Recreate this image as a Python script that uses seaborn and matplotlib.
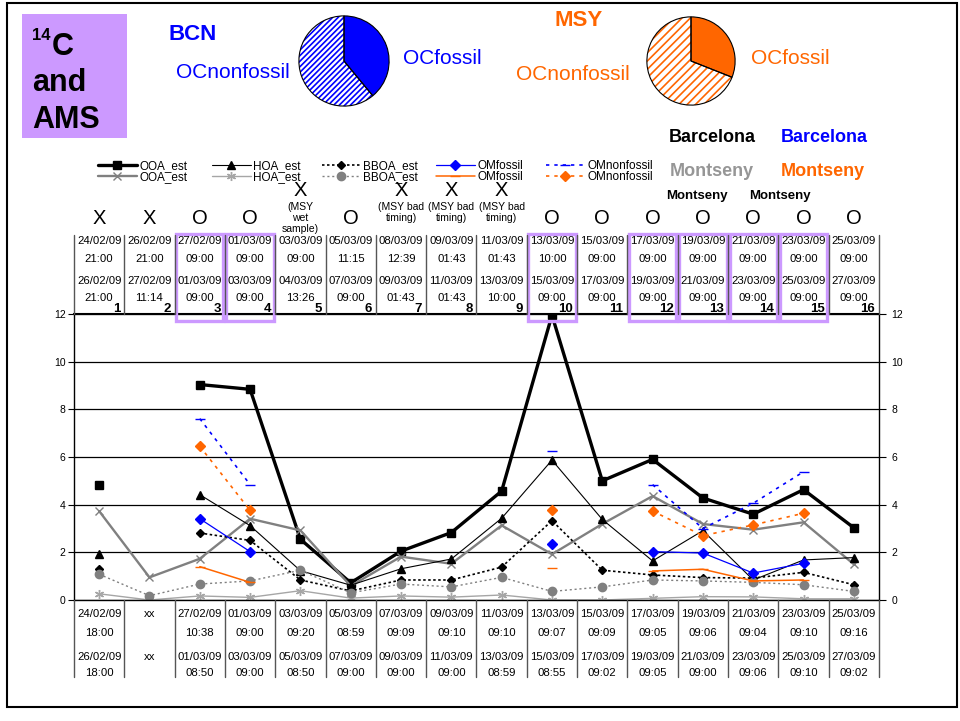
import numpy as np
import pandas as pd
import matplotlib
matplotlib.use("Agg")
import matplotlib.pyplot as plt
import matplotlib.transforms as mtransforms
from matplotlib.lines import Line2D
from matplotlib.patches import Rectangle
import seaborn as sns

nan = np.nan
samples = list(range(1, 17))

# Barcelona (black / blue) series
ooa_bcn = [4.83, nan, 9.04, 8.84, 2.55, 0.72, 2.05, 2.83, 4.57, 11.95, 5.0, 5.9, 4.28, 3.6, 4.63, 3.03]
hoa_bcn = [1.94, nan, 4.42, 3.12, 1.23, 0.62, 1.31, 1.72, 3.43, 5.87, 3.38, 1.64, 2.91, 0.84, 1.68, 1.78]
bboa_bcn = [1.29, nan, 2.81, 2.5, 0.84, 0.38, 0.84, 0.84, 1.38, 3.33, 1.25, 1.05, 0.94, 0.92, 1.16, 0.64]
omf_bcn = [nan, nan, 3.41, 2.03, nan, nan, nan, nan, nan, 2.36, nan, 2.03, 1.97, 1.13, 1.54, nan]
omnf_bcn = [nan, nan, 7.61, 4.84, nan, nan, nan, nan, nan, 6.24, nan, 4.84, 3.0, 4.06, 5.38, nan]

# Montseny (grey / orange) series
ooa_msy = [3.73, 0.95, 1.73, 3.41, 2.92, 0.59, 1.82, 1.52, 3.13, 1.92, 3.19, 4.36, 3.19, 2.95, 3.26, 1.5]
hoa_msy = [0.26, 0.0, 0.17, 0.11, 0.39, 0.08, 0.17, 0.12, 0.21, 0.0, 0.0, 0.07, 0.14, 0.13, 0.05, 0.05]
bboa_msy = [1.08, 0.18, 0.67, 0.8, 1.25, 0.3, 0.67, 0.55, 0.95, 0.36, 0.55, 0.84, 0.8, 0.74, 0.64, 0.36]
omf_msy = [nan, nan, 1.4, 0.74, nan, nan, nan, nan, nan, 1.36, nan, 1.22, 1.29, 0.8, 0.84, nan]
omnf_msy = [nan, nan, 6.45, 3.76, nan, nan, nan, nan, nan, 3.76, nan, 3.73, 2.7, 3.15, 3.64, nan]

# pie fractions (fossil share of OC)
bcn_fossil = 0.39
msy_fossil = 0.31

# filter sampling periods (top) and AMS periods (bottom)
top_start_date = ["24/02/09", "26/02/09", "27/02/09", "01/03/09", "03/03/09", "05/03/09", "08/03/09", "09/03/09",
                  "11/03/09", "13/03/09", "15/03/09", "17/03/09", "19/03/09", "21/03/09", "23/03/09", "25/03/09"]
top_start_time = ["21:00", "21:00", "09:00", "09:00", "09:00", "11:15", "12:39", "01:43",
                  "01:43", "10:00", "09:00", "09:00", "09:00", "09:00", "09:00", "09:00"]
top_end_date = ["26/02/09", "27/02/09", "01/03/09", "03/03/09", "04/03/09", "07/03/09", "09/03/09", "11/03/09",
                "13/03/09", "15/03/09", "17/03/09", "19/03/09", "21/03/09", "23/03/09", "25/03/09", "27/03/09"]
top_end_time = ["21:00", "11:14", "09:00", "09:00", "13:26", "09:00", "01:43", "01:43",
                "10:00", "09:00", "09:00", "09:00", "09:00", "09:00", "09:00", "09:00"]
bot_start_date = ["24/02/09", "xx", "27/02/09", "01/03/09", "03/03/09", "05/03/09", "07/03/09", "09/03/09",
                  "11/03/09", "13/03/09", "15/03/09", "17/03/09", "19/03/09", "21/03/09", "23/03/09", "25/03/09"]
bot_start_time = ["18:00", "", "10:38", "09:00", "09:20", "08:59", "09:09", "09:10",
                  "09:10", "09:07", "09:09", "09:05", "09:06", "09:04", "09:10", "09:16"]
bot_end_date = ["26/02/09", "xx", "01/03/09", "03/03/09", "05/03/09", "07/03/09", "09/03/09", "11/03/09",
                "13/03/09", "15/03/09", "17/03/09", "19/03/09", "21/03/09", "23/03/09", "25/03/09", "27/03/09"]
bot_end_time = ["18:00", "", "08:50", "09:00", "08:50", "09:00", "09:00", "09:00",
                "08:59", "08:55", "09:02", "09:05", "09:00", "09:06", "09:10", "09:02"]

status = ["X", "X", "O", "O", "X", "O", "X", "X", "X", "O", "O", "O", "O", "O", "O", "O"]
notes = ["", "", "", "", "(MSY\nwet\nsample)", "", "(MSY bad\ntiming)", "(MSY bad\ntiming)", "(MSY bad\ntiming)",
         "", "", "", "", "", "", ""]
highlight = [3, 4, 10, 12, 13, 14, 15]

BLUE = "#0000FF"
ORANGE = "#FF6600"
GREY = "#808080"
LGREY = "#A6A6A6"
PURPLE = "#CC99FF"

sns.set_theme(style="white")
plt.rcParams['font.family'] = ['Liberation Sans', 'DejaVu Sans']
plt.rcParams['text.color'] = 'black'
plt.rcParams['hatch.linewidth'] = 1.2

fig = plt.figure(figsize=(9.6, 7.21), dpi=100)
ax = fig.add_axes([74 / 960, 1 - 600 / 721, 805 / 960, 286 / 721])
ov = fig.add_axes([0, 0, 1, 1])
ov.axis("off")
ov.set_zorder(5)

# name, values, color, lw, linestyle, marker, markersize
series = [
    ("OOA_est", ooa_bcn, "black", 2.4, "-", "s", 5.5),
    ("OOA_est", ooa_msy, GREY, 1.7, "-", "x", 6),
    ("HOA_est", hoa_bcn, "black", 0.8, "-", "^", 5.5),
    ("HOA_est", hoa_msy, LGREY, 1.0, "-", (6, 2, 0), 6.5),
    ("BBOA_est", bboa_bcn, "black", 1.2, (0, (1.5, 1.5)), "D", 4.5),
    ("BBOA_est", bboa_msy, GREY, 1.0, (0, (1.5, 2)), "o", 6),
    ("OMfossil", omf_bcn, BLUE, 0.9, "-", "D", 5),
    ("OMfossil", omf_msy, ORANGE, 1.1, "-", "_", 7),
    ("OMnonfossil", omnf_bcn, BLUE, 1.2, (0, (2, 3)), "_", 7),
    ("OMnonfossil", omnf_msy, ORANGE, 1.2, (0, (2, 3)), "D", 5),
]


def segments(vals):
    seg, k, prev = [], 0, False
    for v in vals:
        ok = not np.isnan(v)
        if ok and not prev:
            k += 1
        seg.append(k if ok else 0)
        prev = ok
    return seg


handles = []
for name, vals, color, lw, ls, marker, ms in series:
    df = pd.DataFrame({"sample": samples, "value": vals, "seg": segments(vals)}).dropna()
    sns.lineplot(data=df, x="sample", y="value", units="seg", estimator=None, ax=ax,
                 color=color, lw=lw, linestyle=ls, marker=marker, markersize=ms,
                 markeredgecolor=color, markerfacecolor=color, markeredgewidth=1.0, legend=False)
    handles.append(Line2D([], [], color=color, lw=lw, linestyle=ls, marker=marker, markersize=ms,
                          markeredgecolor=color, markerfacecolor=color, markeredgewidth=1.0))

ax.set_xlim(0.5, 16.5)
ax.set_ylim(0, 12)
ax.set_xticks([])
ax.set_yticks(range(0, 13, 2))
ax.set_xlabel("")
ax.set_ylabel("")
ax.yaxis.grid(True, color="black", lw=0.9)
for s in ax.spines.values():
    s.set_color("black")
    s.set_linewidth(1.0)
ax.spines["top"].set_linewidth(1.5)
ax.tick_params(axis="y", direction="out", length=4, width=0.8, labelsize=7.5, pad=2, left=True, colors="black")
axr = ax.twinx()
axr.set_ylim(0, 12)
axr.set_yticks(range(0, 13, 2))
axr.grid(False)
axr.tick_params(axis="y", direction="out", length=5, width=0.8, labelsize=7.5, pad=4, right=True, colors="black")
for s in axr.spines.values():
    s.set_visible(False)

blend = mtransforms.blended_transform_factory(ax.transData, ov.transData)

# table lines
for b in np.arange(0.5, 17, 1):
    ov.plot([b, b], [235, 314], transform=blend, color="#555555", lw=1.0)
    ov.plot([b, b], [600, 677], transform=blend, color="#555555", lw=1.0)

tkw = dict(transform=blend, ha="center", va="center", fontsize=8.2, color="black")
for i in samples:
    k = i - 1
    ov.text(i, 241, top_start_date[k], **tkw)
    ov.text(i, 259, top_start_time[k], **tkw)
    ov.text(i, 281, top_end_date[k], **tkw)
    ov.text(i, 298, top_end_time[k], **tkw)
    ov.text(i + 0.42, 309, str(i), transform=blend, ha="right", va="center", fontsize=9.5, fontweight="bold")
    ov.text(i, 614, bot_start_date[k], **tkw)
    ov.text(i, 633, bot_start_time[k], **tkw)
    ov.text(i, 657, bot_end_date[k], **tkw)
    ov.text(i, 673, bot_end_time[k], **tkw)
    if notes[k]:
        ov.text(i, 191, status[k], transform=blend, ha="center", va="center", fontsize=14.5)
        ov.text(i, 202, notes[k], transform=blend, ha="center", va="top", fontsize=7.5, linespacing=1.1)
    else:
        ov.text(i, 219, status[k], transform=blend, ha="center", va="center", fontsize=14.5)

for i in highlight:
    ov.add_patch(Rectangle((i - 0.47, 234), 0.94, 87, transform=blend, fill=False, ec=PURPLE, lw=2.4))

# legend: one block per species, BCN row on top, MSY row below
labels = ["OOA_est", "HOA_est", "BBOA_est", "OMfossil", "OMnonfossil"]
leg_x = [98, 212, 322, 436, 546]
for j, lab in enumerate(labels):
    fig.legend(handles=handles[2 * j:2 * j + 2], labels=[lab, lab], loc="upper left",
               bbox_to_anchor=(leg_x[j] / 960, 1 - 160 / 721), frameon=False, fontsize=8.5,
               handlelength=3.3, handletextpad=0.2, labelspacing=-0.05, borderpad=0, borderaxespad=0)

# site labels
ov.text(712, 137, "Barcelona", ha="center", va="center", fontsize=13, fontweight="bold", color="black")
ov.text(824, 137, "Barcelona", ha="center", va="center", fontsize=13, fontweight="bold", color=BLUE)
ov.text(712, 171, "Montseny", ha="center", va="center", fontsize=13, fontweight="bold", color="#969696")
ov.text(823, 171, "Montseny", ha="center", va="center", fontsize=13, fontweight="bold", color=ORANGE)
ov.text(697, 196, "Montseny", ha="center", va="center", fontsize=9.5, fontweight="bold", color="black")
ov.text(780, 196, "Montseny", ha="center", va="center", fontsize=9.5, fontweight="bold", color="black")

# 14C and AMS box
ov.add_patch(Rectangle((22, 14), 105, 124, color=PURPLE, lw=0))
ov.text(32, 40, "14", ha="left", va="baseline", fontsize=12, fontweight="bold")
ov.text(52, 55, "C", ha="left", va="baseline", fontsize=22, fontweight="bold")
ov.text(32, 91, "and", ha="left", va="baseline", fontsize=22, fontweight="bold")
ov.text(32, 128, "AMS", ha="left", va="baseline", fontsize=22, fontweight="bold")

# pie titles
ov.text(193, 34, "BCN", ha="center", va="center", fontsize=16, fontweight="bold", color=BLUE)
ov.text(233, 73, "OCnonfossil", ha="center", va="center", fontsize=15, color=BLUE)
ov.text(442, 58, "OCfossil", ha="center", va="center", fontsize=15, color=BLUE)
ov.text(579, 21, "MSY", ha="center", va="center", fontsize=16, fontweight="bold", color=ORANGE)
ov.text(573, 74, "OCnonfossil", ha="center", va="center", fontsize=15, color=ORANGE)
ov.text(790, 59, "OCfossil", ha="center", va="center", fontsize=15, color=ORANGE)


def draw_pie(cx, cy, r, fossil, color, hatch):
    pax = fig.add_axes([(cx - r) / 960, 1 - (cy + r) / 721, 2 * r / 960, 2 * r / 721])
    wedges, _ = pax.pie([fossil, 1 - fossil], startangle=90, counterclock=False,
                        colors=[color, "white"], wedgeprops=dict(lw=0))
    wedges[1].set_hatch(hatch)
    wedges[1].set_edgecolor(color)
    wedges[1].set_linewidth(0)
    pax.pie([fossil, 1 - fossil], startangle=90, counterclock=False,
            wedgeprops=dict(fill=False, edgecolor="black", lw=0.8))
    pax.set_xlim(-1.02, 1.02)
    pax.set_ylim(-1.02, 1.02)


draw_pie(344, 61, 46, bcn_fossil, BLUE, "//////")
draw_pie(691, 61, 45, msy_fossil, ORANGE, "////")

# outer frame
ov.add_patch(Rectangle((7, 3), 950, 704, fill=False, ec="black", lw=1.5))
ov.set_xlim(0, 960)
ov.set_ylim(721, 0)

fig.savefig("out.png", dpi=100)
